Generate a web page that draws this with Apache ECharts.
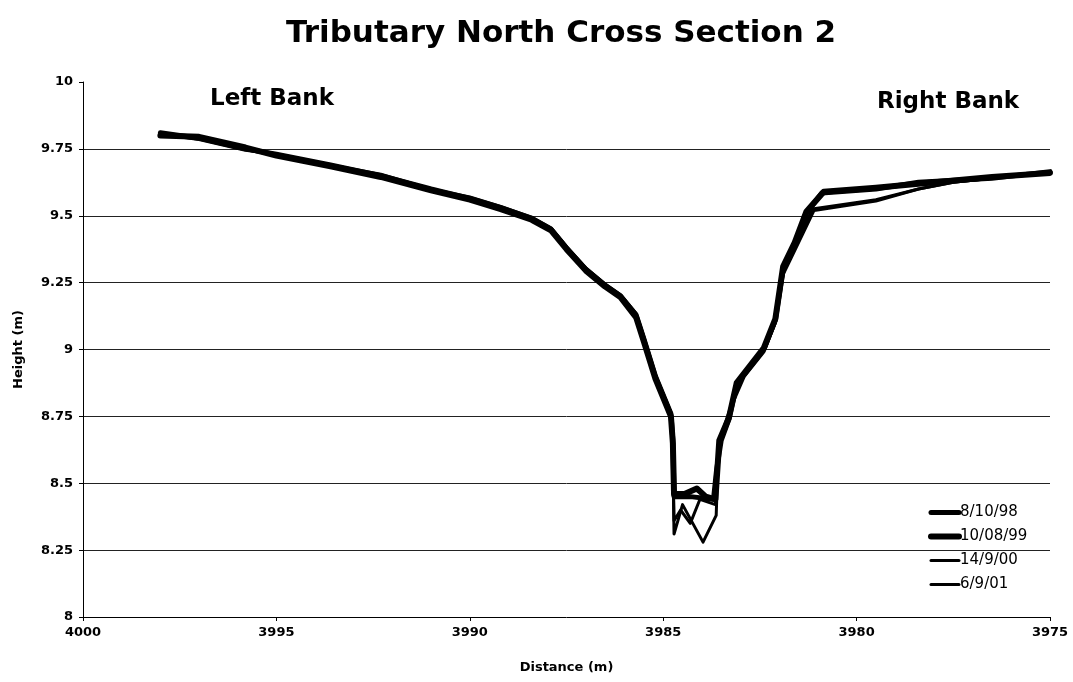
<!DOCTYPE html>
<html>
<head>
<meta charset="utf-8">
<title>Tributary North Cross Section 2</title>
<script src="https://cdn.jsdelivr.net/npm/echarts@6/dist/echarts.min.js"></script>
<style>
  html, body { margin: 0; padding: 0; background: #fff; }
  #chart { width: 1073px; height: 682px; }
</style>
</head>
<body>
<div id="chart"></div>
<script>
// axis ticks
const xTicks = [3975, 3980, 3985, 3990, 3995, 4000];
const yTicks = [8, 8.25, 8.5, 8.75, 9, 9.25, 9.5, 9.75, 10];

const surveyNames = ["8/10/98", "10/08/99", "14/9/00", "6/9/01"];

// distance (m) / height (m)
const dist98 = [3998.0, 3997.0, 3995.8, 3995.0, 3993.6, 3992.3, 3991.0, 3990.0, 3989.2, 3988.4, 3987.9, 3987.5, 3987.0, 3986.5, 3986.1, 3985.7, 3985.5, 3985.2, 3985.0, 3984.8, 3984.75, 3984.72, 3984.3, 3983.7, 3983.62, 3983.5, 3983.3, 3983.1, 3982.4, 3982.1, 3981.9, 3981.6, 3981.3, 3980.9, 3979.5, 3978.4, 3976.5, 3975.0];
const height98 = [9.81, 9.79, 9.75, 9.73, 9.69, 9.65, 9.6, 9.565, 9.53, 9.49, 9.45, 9.38, 9.3, 9.24, 9.2, 9.13, 9.04, 8.9, 8.83, 8.76, 8.66, 8.45, 8.45, 8.44, 8.55, 8.66, 8.74, 8.87, 9.0, 9.11, 9.3, 9.39, 9.51, 9.585, 9.6, 9.625, 9.64, 9.665];

const dist99 = [3998.0, 3997.0, 3995.8, 3995.0, 3993.6, 3992.3, 3991.0, 3990.0, 3989.2, 3988.4, 3987.9, 3987.5, 3987.0, 3986.5, 3986.1, 3985.7, 3985.5, 3985.2, 3985.0, 3984.8, 3984.75, 3984.72, 3984.45, 3984.13, 3983.9, 3983.65, 3983.55, 3983.3, 3983.1, 3982.4, 3982.1, 3981.9, 3981.6, 3981.3, 3980.85, 3979.5, 3978.4, 3976.5, 3975.0];
const height99 = [9.8, 9.795, 9.755, 9.725, 9.685, 9.645, 9.595, 9.56, 9.525, 9.485, 9.445, 9.375, 9.295, 9.235, 9.195, 9.12, 9.03, 8.89, 8.82, 8.75, 8.65, 8.46, 8.46, 8.48, 8.45, 8.44, 8.66, 8.745, 8.875, 9.005, 9.115, 9.31, 9.4, 9.515, 9.59, 9.605, 9.62, 9.645, 9.66];

const dist00 = [3998.0, 3997.0, 3995.8, 3995.0, 3993.6, 3992.3, 3991.0, 3990.0, 3989.2, 3988.4, 3987.9, 3987.5, 3987.0, 3986.5, 3986.1, 3985.7, 3985.5, 3985.2, 3985.0, 3984.8, 3984.75, 3984.72, 3984.5, 3983.97, 3983.63, 3983.58, 3983.45, 3983.2, 3982.9, 3982.4, 3982.1, 3981.9, 3981.6, 3981.1, 3979.5, 3978.4, 3977.5, 3976.5, 3975.0];
const height00 = [9.805, 9.785, 9.745, 9.73, 9.69, 9.655, 9.6, 9.57, 9.535, 9.495, 9.455, 9.385, 9.305, 9.245, 9.205, 9.135, 9.045, 8.905, 8.835, 8.765, 8.6, 8.31, 8.42, 8.28, 8.38, 8.6, 8.69, 8.8, 8.9, 8.99, 9.1, 9.28, 9.37, 9.52, 9.555, 9.6, 9.625, 9.64, 9.665];

const dist01 = [3998.0, 3997.0, 3995.8, 3995.0, 3993.6, 3992.3, 3991.0, 3990.0, 3989.2, 3988.4, 3987.9, 3987.5, 3987.0, 3986.5, 3986.1, 3985.7, 3985.5, 3985.2, 3985.0, 3984.8, 3984.75, 3984.72, 3984.55, 3984.3, 3984.05, 3983.65, 3983.6, 3983.45, 3983.2, 3982.9, 3982.4, 3982.1, 3981.9, 3981.6, 3981.15, 3979.5, 3978.4, 3977.5, 3976.5, 3975.0];
const height01 = [9.8, 9.79, 9.75, 9.725, 9.685, 9.65, 9.6, 9.565, 9.53, 9.49, 9.45, 9.38, 9.3, 9.24, 9.2, 9.13, 9.04, 8.9, 8.83, 8.76, 8.62, 8.36, 8.4, 8.35, 8.44, 8.42, 8.58, 8.7, 8.81, 8.91, 9.0, 9.11, 9.29, 9.38, 9.525, 9.56, 9.6, 9.625, 9.64, 9.665];

const lineWidths = [5, 6, 3, 3];

const FONT = "DejaVu Sans";

function pairs(xs, ys) {
  return xs.map((x, i) => [x, ys[i]]);
}

const surveys = [
  pairs(dist98, height98),
  pairs(dist99, height99),
  pairs(dist00, height00),
  pairs(dist01, height01),
];

const chart = echarts.init(document.getElementById("chart"), null, { renderer: "canvas" });

chart.setOption({
  animation: false,
  backgroundColor: "#fff",
  title: [
    {
      text: "Tributary North Cross Section 2",
      left: 281,
      top: 13,
      textStyle: { fontFamily: FONT, fontSize: 31, fontWeight: "bold", color: "#000" },
    },
    {
      text: "Left Bank",
      left: 205,
      top: 83,
      textStyle: { fontFamily: FONT, fontSize: 23, fontWeight: "bold", color: "#000" },
    },
    {
      text: "Right Bank",
      left: 872,
      top: 86,
      textStyle: { fontFamily: FONT, fontSize: 23, fontWeight: "bold", color: "#000" },
    },
  ],
  legend: {
    orient: "vertical",
    left: 928,
    top: 505,
    padding: 0,
    itemWidth: 28,
    itemHeight: 14,
    itemGap: 9,
    data: surveyNames,
    textStyle: { fontFamily: FONT, fontSize: 15, color: "#000", padding: [0, 0, 0, -4] },
    lineStyle: { width: "inherit" },
    itemStyle: { opacity: 0, borderWidth: 0 },
  },
  grid: {
    left: 83,
    right: 23,
    top: 82,
    bottom: 65,
    containLabel: false,
  },
  xAxis: {
    type: "value",
    inverse: true,
    min: xTicks[0],
    max: xTicks[xTicks.length - 1],
    interval: xTicks[1] - xTicks[0],
    name: "Distance (m)",
    nameLocation: "middle",
    nameGap: 44,
    nameTextStyle: { fontFamily: FONT, fontSize: 13, fontWeight: "bold", color: "#000" },
    axisLine: { show: true, lineStyle: { color: "#000", width: 1 } },
    axisTick: { show: true, length: 4, lineStyle: { color: "#000" } },
    axisLabel: {
      fontFamily: FONT, fontSize: 13, fontWeight: "bold", color: "#000", margin: 9,
      formatter: (v) => String(v),
    },
    splitLine: { show: false },
  },
  yAxis: {
    type: "value",
    min: yTicks[0],
    max: yTicks[yTicks.length - 1],
    interval: yTicks[1] - yTicks[0],
    name: "Height (m)",
    nameLocation: "middle",
    nameGap: 58,
    nameTextStyle: { fontFamily: FONT, fontSize: 13, fontWeight: "bold", color: "#000" },
    axisLine: { show: true, lineStyle: { color: "#000", width: 1 } },
    axisTick: { show: true, length: 4, lineStyle: { color: "#000" } },
    axisLabel: { fontFamily: FONT, fontSize: 13, fontWeight: "bold", color: "#000", margin: 10 },
    splitLine: {
      show: true,
      showMinLine: false,
      showMaxLine: false,
      lineStyle: { color: "#222", width: 1 },
    },
  },
  series: surveyNames.map((name, i) => ({
    type: "line",
    name: name,
    data: surveys[i],
    symbol: "none",
    smooth: false,
    silent: true,
    color: "#000",
    lineStyle: { color: "#000", width: lineWidths[i], join: "round", cap: "round" },
  })),
});
</script>
</body>
</html>
